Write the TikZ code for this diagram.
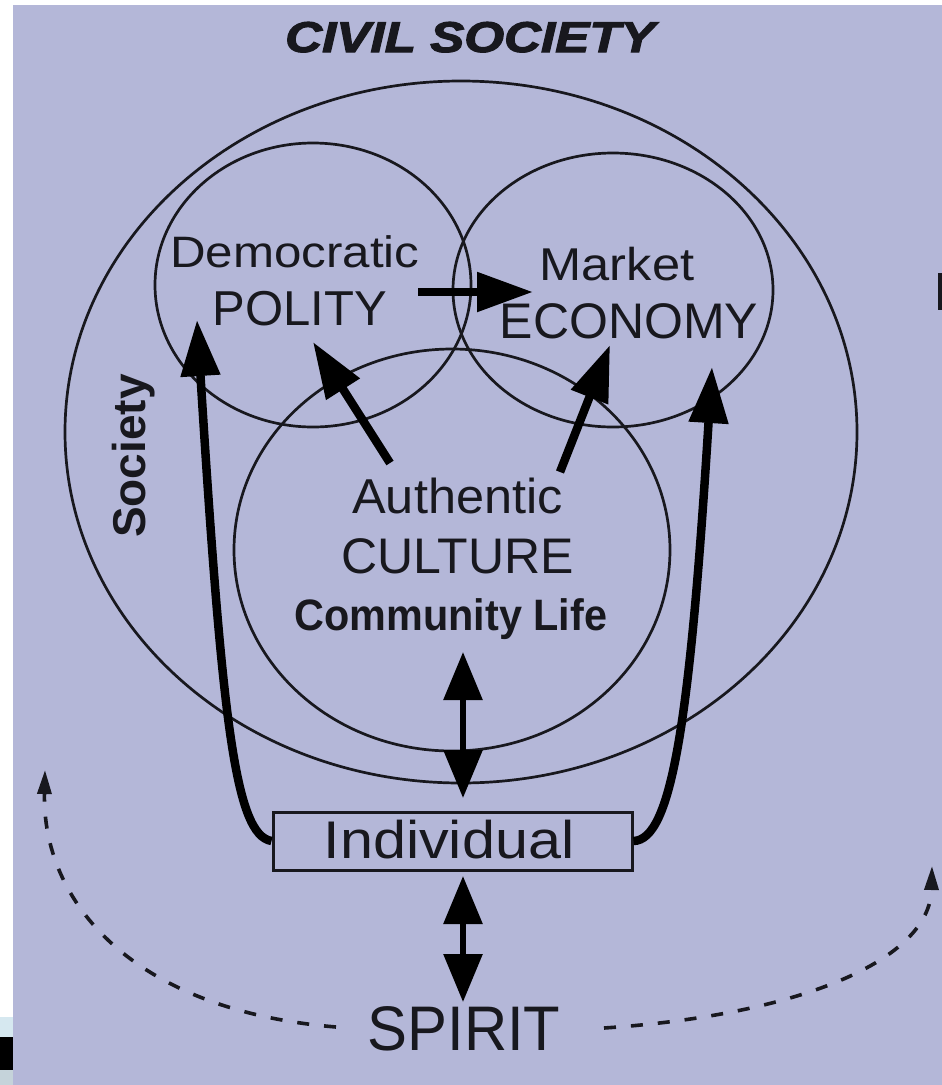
\documentclass[tikz,border=0pt]{standalone}
\usepackage{fontspec}
\setmainfont{Liberation Sans}
\newfontfamily\civilfont[FakeBold=2.5]{Liberation Sans}
\usetikzlibrary{arrows.meta}
\definecolor{bgc}{RGB}{180,183,216}
\definecolor{ink}{RGB}{24,24,30}
\definecolor{lblue}{RGB}{214,232,240}
\tikzset{
  ring/.style={draw=ink, line width=2.7pt},
  lbl/.style={inner sep=0pt, anchor=base, text=ink},
  bigarrow/.style={draw=black, line width=8.5pt, -{Triangle[length=56pt,width=38pt]}},
  dblarrow/.style={draw=black, line width=6pt, {Triangle[length=48pt,width=38pt]}-{Triangle[length=48pt,width=38pt]}},
  dasharc/.style={draw=ink, line width=3.6pt, dash pattern=on 12pt off 15pt, -{Triangle[length=24pt,width=14pt]}},
  indbox/.style={draw=ink, line width=3pt, minimum width=359pt, minimum height=58pt, inner sep=0pt}
}
\begin{document}
\begin{tikzpicture}[x=1pt,y=-1pt]
\useasboundingbox (0,0) rectangle (942,1085);
\fill[white] (0,0) rectangle (942,1085);
\fill[bgc] (13,5) rectangle (942,1085);
% bottom-left slide decoration
\fill[lblue] (0,1017) rectangle (13,1037);
\fill[black] (0,1037) rectangle (13,1070);
\fill[lblue!80!gray] (0,1070) rectangle (13,1085);
% right-edge mark
\fill[ink] (938,273) rectangle (942,310);

% circles
\draw[ring] (461,432) ellipse [x radius=396, y radius=351];
\draw[ring] (313,285) ellipse [x radius=158, y radius=142];
\draw[ring] (613,290) ellipse [x radius=160, y radius=137];
\draw[ring] (452,550) ellipse [x radius=218, y radius=201];

% texts
\node[lbl, font=\fontsize{43}{45}\selectfont\civilfont\bfseries\itshape, xscale=1.19] (civil) at (470,52) {CIVIL SOCIETY};
\node[lbl, font=\fontsize{44}{46}\selectfont, xscale=1.12] (dem) at (295,267) {Democratic};
\node[lbl, font=\fontsize{49}{51}\selectfont] (pol) at (300,325) {POLITY};
\node[lbl, font=\fontsize{46}{48}\selectfont, xscale=1.1] (mkt) at (617,280) {Market};
\node[lbl, font=\fontsize{50}{52}\selectfont] (eco) at (629,338) {ECONOMY};
\node[lbl, font=\fontsize{49}{51}\selectfont, xscale=1.03] (auth) at (457.5,513) {Authentic};
\node[lbl, font=\fontsize{50}{52}\selectfont] (cult) at (457.5,573) {CULTURE};
\node[lbl, font=\fontsize{44}{46}\selectfont\bfseries, xscale=0.94] (comm) at (451,630) {Community Life};
\node[lbl, font=\fontsize{46}{48}\selectfont\bfseries, rotate=90, anchor=center] (soc) at (134,456) {Society};
\node[indbox] (ind) at (452.5,841) {};
\node[lbl, font=\fontsize{53}{55}\selectfont, xscale=1.12] (indt) at (449,858) {Individual};
\node[lbl, font=\fontsize{63}{65}\selectfont, xscale=0.95] (spirit) at (464,1050) {SPIRIT};

% arrow end points
\coordinate (h1) at (418,292);
\coordinate (h2) at (533,292);
\coordinate (p1) at (390,463);
\coordinate (p2) at (313,342);
\coordinate (e1) at (560,472);
\coordinate (e2) at (610,345);
\coordinate (lt) at (197,320);
\coordinate (rt) at (712,367);
\coordinate (d1) at (463,652);
\coordinate (d2) at (463,798);
\coordinate (s1) at (463,876);
\coordinate (s2) at (463,1002);
\coordinate (la) at (336,1027);
\coordinate (lb) at (45,770);
\coordinate (ra) at (604,1028);
\coordinate (rb) at (932,866);

% arrows
\draw[bigarrow] (h1) -- (h2);
\draw[bigarrow] (p1) -- (p2);
\draw[bigarrow] (e1) -- (e2);
\draw[bigarrow] (ind.west) .. controls (235,835) and (222,720) .. (lt);
\draw[bigarrow] (ind.east) .. controls (672,840) and (690,720) .. (rt);
\draw[dblarrow] (d1) -- (d2);
\draw[dblarrow] (s1) -- (s2);
\draw[dasharc] (la) .. controls (130,1010) and (42,900) .. (lb);
\draw[dasharc] (ra) .. controls (800,1015) and (930,960) .. (rb);
\end{tikzpicture}
\end{document}
